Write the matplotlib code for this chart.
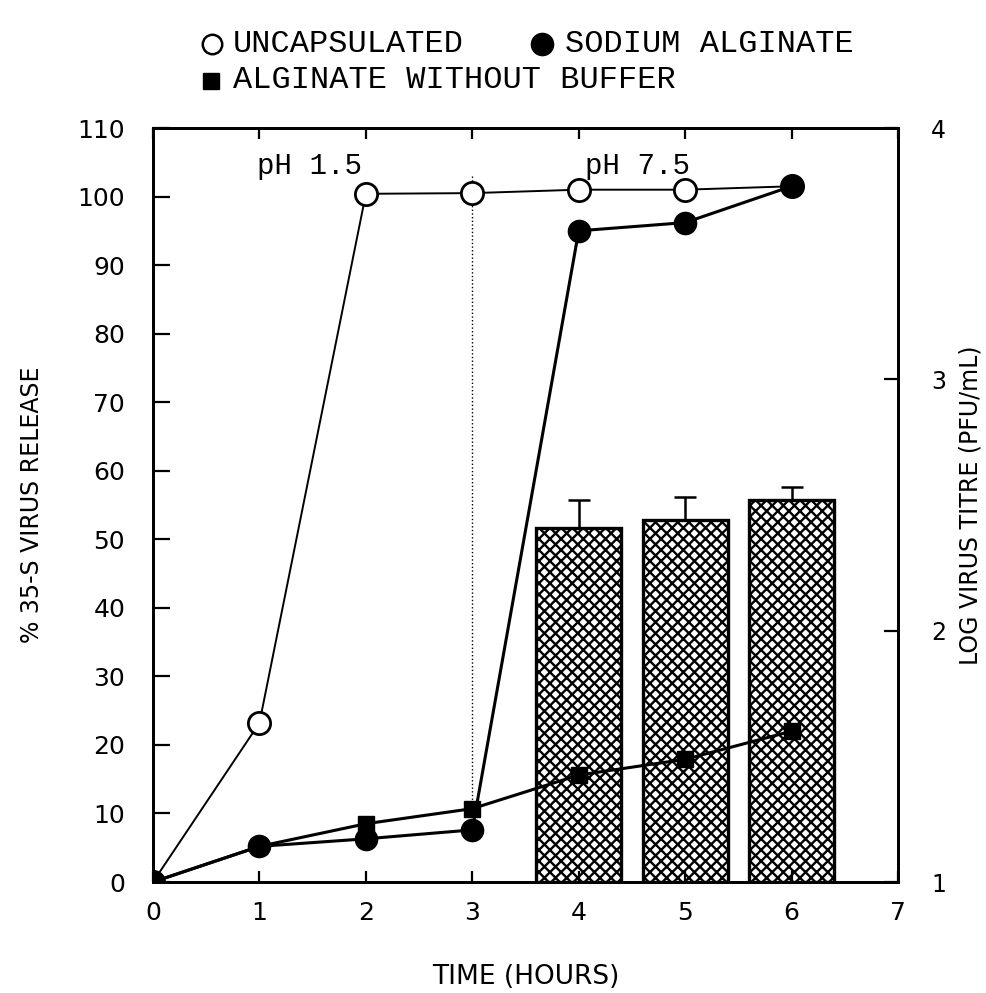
"""Liberación de virus 35-S en cápsulas de alginato y título viral (réplica de figura)."""

import matplotlib
matplotlib.use("Agg")
import matplotlib.pyplot as plt
from matplotlib.lines import Line2D
import numpy as np

plt.rcParams["hatch.linewidth"] = 1.7

# Datos
hours = [0, 1, 2, 3, 4, 5, 6]
uncapsulated = [0, 23.2, 100.4, 100.5, 101.0, 101.0, 101.5]
sodium_alginate = [0, 5.2, 6.3, 7.6, 95.0, 96.2, 101.5]
no_buffer = [0, 5.2, 8.5, 10.7, 15.6, 17.9, 22.0]

bar_hours = [4, 5, 6]
log_titre = [2.41, 2.44, 2.52]
titre_err = [0.11, 0.09, 0.05]

x_ticks = [0, 1, 2, 3, 4, 5, 6, 7]
y_ticks = list(range(0, 111, 10))
y2_ticks = [1, 2, 3, 4]

W, H = 987, 993
fig = plt.figure(figsize=(W / 100, H / 100), dpi=100)
ax = fig.add_axes([153 / W, 1 - 882 / H, (898 - 153) / W, (882 - 128) / H])
ax2 = ax.twinx()

# Barras (eje derecho)
ax2.bar(bar_hours, np.array(log_titre) - 1, bottom=1, width=0.8,
        facecolor="white", edgecolor="black", hatch="xxx", linewidth=2.4, zorder=2)
ax2.errorbar(bar_hours, log_titre, yerr=[np.zeros(3), titre_err], fmt="none",
             ecolor="black", elinewidth=1.8, capsize=8, capthick=1.8, zorder=3)
ax2.set_ylim(1, 4)
ax2.set_yticks(y2_ticks)
ax2.tick_params(axis="y", direction="in", length=10, width=1.6, pad=24, labelsize=17)
ax2.set_ylabel("LOG VIRUS TITRE (PFU/mL)", fontsize=17, labelpad=9)

# Curvas (eje izquierdo, por encima de las barras)
ax.set_zorder(ax2.get_zorder() + 1)
ax.patch.set_visible(False)

ax.plot([3, 3], [103, 10], color="black", linestyle=":", linewidth=1.0)
ax.plot(hours, uncapsulated, color="black", linewidth=1.4, marker="o",
        markersize=16, markerfacecolor="white", markeredgewidth=2.0)
ax.plot(hours, no_buffer, color="black", linewidth=2.2, marker="s",
        markersize=12)
ax.plot(hours, sodium_alginate, color="black", linewidth=2.2, marker="o",
        markersize=16)

ax.text(1.47, 104.5, "pH 1.5", ha="center", va="center", fontsize=21,
        family="Liberation Mono")
ax.text(4.55, 104.5, "pH 7.5", ha="center", va="center", fontsize=21,
        family="Liberation Mono")

ax.set_xlim(0, 7)
ax.set_ylim(0, 110)
ax.set_xticks(x_ticks)
ax.set_yticks(y_ticks)
ax.tick_params(axis="x", direction="in", length=8, width=1.6, top=True,
               pad=14, labelsize=18)
ax.tick_params(axis="y", direction="in", length=12, width=1.6, pad=20,
               labelsize=18)
ax.set_xlabel("TIME (HOURS)", fontsize=19, labelpad=28)
ax.set_ylabel("% 35-S VIRUS RELEASE", fontsize=17, labelpad=24)

for a in (ax, ax2):
    for s in a.spines.values():
        s.set_linewidth(2.0)

# Leyenda manual en la parte superior
def fx(px):
    return px / W


def fy(py):
    return 1 - py / H


legend_font = dict(family="Liberation Mono", fontsize=23, va="center", ha="left")
fig.add_artist(Line2D([fx(212)], [fy(44)], marker="o", markersize=14,
                      markerfacecolor="white", markeredgecolor="black",
                      markeredgewidth=1.8, transform=fig.transFigure))
fig.text(fx(233), fy(44), "UNCAPSULATED", **legend_font)
fig.add_artist(Line2D([fx(542)], [fy(44)], marker="o", markersize=16,
                      color="black", transform=fig.transFigure))
fig.text(fx(565), fy(44), "SODIUM ALGINATE", **legend_font)
fig.add_artist(Line2D([fx(211)], [fy(81)], marker="s", markersize=11,
                      color="black", transform=fig.transFigure))
fig.text(fx(233), fy(80), "ALGINATE WITHOUT BUFFER", **legend_font)

fig.savefig("out.png", dpi=100)
plt.close(fig)
